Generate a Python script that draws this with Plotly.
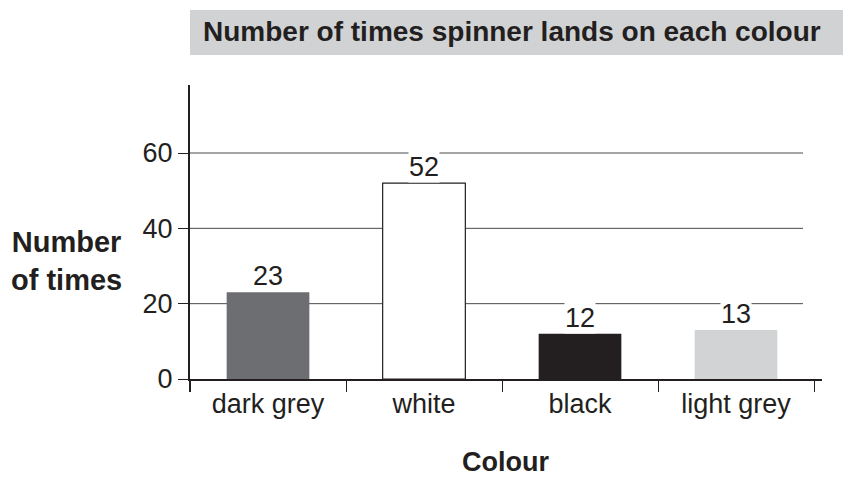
import plotly.graph_objects as go

categories = ["dark grey", "white", "black", "light grey"]
values = [23, 52, 12, 13]
bar_colors = ["#6d6e71", "#ffffff", "#231f20", "#d1d3d4"]
y_ticks = [0, 20, 40, 60]
grid_values = [20, 40, 60]

OFF = 8  # page body margin
W, H = 851 - OFF, 480 - OFF
L, R, T, B = 190 - OFF, 822 - OFF, 85 - OFF, 379 - OFF
FONT = "Liberation Sans, Arial, Helvetica"
INK = "#231f20"

fig = go.Figure()
fig.add_trace(go.Bar(
    x=categories, y=values,
    marker=dict(color=bar_colors, line=dict(color=INK, width=[0, 1.2, 0, 0])),
    width=0.53, hoverinfo="skip",
))

def px_x(p):  # p in reference pixels
    return (p - OFF - L) / (R - L)

def px_y(p):
    return (B - (p - OFF)) / (B - T)

shapes = []
for g in grid_values:
    shapes.append(dict(type="line", xref="x domain", yref="y", x0=0, x1=px_x(803),
                       y0=g, y1=g, line=dict(color="#4a4a4a", width=1), layer="below"))
shapes.append(dict(type="line", xref="x domain", yref="y domain", x0=0, x1=0,
                   y0=0, y1=px_y(392), line=dict(color=INK, width=2)))
shapes.append(dict(type="rect", xref="paper", yref="paper", x0=px_x(190), x1=px_x(860),
                   y0=px_y(55), y1=px_y(10), fillcolor="#d1d2d4", line=dict(width=0)))

annotations = []
for c, v in zip(categories, values):
    annotations.append(dict(x=c, y=v, text=str(v), showarrow=False, yanchor="bottom",
                            yshift=0, bgcolor="white", borderpad=0,
                            font=dict(family=FONT, size=27, color=INK)))
annotations.append(dict(xref="paper", yref="paper", x=px_x(201), y=px_y(32),
                        xanchor="left", yanchor="middle", showarrow=False,
                        text="<b>Number of times spinner lands on each colour</b>",
                        font=dict(family=FONT, size=28, color=INK)))
annotations.append(dict(xref="paper", yref="paper", x=px_x(66), y=px_y(261),
                        xanchor="center", yanchor="middle", showarrow=False, align="center",
                        text="<b>Number<br>of times</b>",
                        font=dict(family=FONT, size=29, color=INK)))
annotations.append(dict(xref="paper", yref="paper", x=px_x(505), y=px_y(462),
                        xanchor="center", yanchor="middle", showarrow=False,
                        text="<b>Colour</b>",
                        font=dict(family=FONT, size=27, color=INK)))

fig.update_layout(
    width=W, height=H,
    margin=dict(l=L, r=W - R, t=T, b=H - B),
    paper_bgcolor="white", plot_bgcolor="white",
    showlegend=False,
    shapes=shapes, annotations=annotations,
    xaxis=dict(type="category", range=[-0.5, (822 - 268) / 156], tickson="boundaries",
               showline=True, linecolor=INK, linewidth=2,
               ticks="outside", ticklen=11, tickwidth=1, tickcolor=INK,
               showgrid=False, zeroline=False,
               tickfont=dict(family=FONT, size=27, color=INK)),
    yaxis=dict(range=[0, (379 - 85) / ((379 - 153) / 60)], tickvals=y_ticks,
               showline=True, linecolor=INK, linewidth=2,
               ticks="outside", ticklen=10, tickwidth=1, tickcolor=INK,
               showgrid=False, zeroline=False,
               tickfont=dict(family=FONT, size=27, color=INK)),
)

fig.write_html("out.html")
